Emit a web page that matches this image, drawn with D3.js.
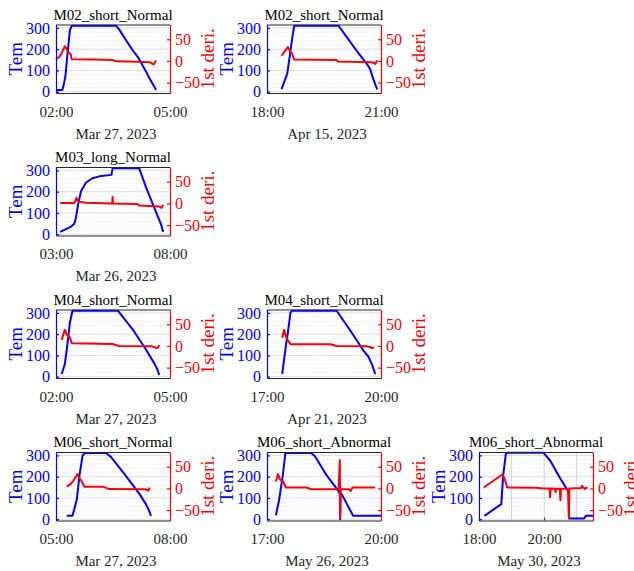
<!DOCTYPE html>
<html lang="en">
<head>
<meta charset="utf-8">
<title>Tem / 1st deri.</title>
<script src="https://cdn.jsdelivr.net/npm/d3@7"></script>
<style>
  body { margin: 0; padding: 0; background: #fff; }
  svg text { font-family: 'Liberation Serif', 'Times New Roman', serif; }
</style>
</head>
<body>
<div id="chart"></div>
<script>
// ---- data ----
var titles = ["M02_short_Normal", "M02_short_Normal", "M03_long_Normal", "M04_short_Normal",
              "M04_short_Normal", "M06_short_Normal", "M06_short_Abnormal", "M06_short_Abnormal"];
var days = ["2023-03-27", "2023-04-15", "2023-03-26", "2023-03-27", "2023-04-21", "2023-03-27", "2023-05-26", "2023-05-30"];
var dateLabels = ["Mar 27, 2023", "Apr 15, 2023", "Mar 26, 2023", "Mar 27, 2023",
                  "Apr 21, 2023", "Mar 27, 2023", "May 26, 2023", "May 30, 2023"];
var windowStart = ["02:00", "18:00", "03:00", "02:00", "17:00", "05:00", "17:00", "18:00"];
var windowEnd   = ["05:00", "21:00", "08:00", "05:00", "20:00", "08:00", "20:00", "21:30"];
var xTickLabels = [["02:00", "05:00"], ["18:00", "21:00"], ["03:00", "08:00"], ["02:00", "05:00"],
                   ["17:00", "20:00"], ["05:00", "08:00"], ["17:00", "20:00"], ["18:00", "20:00"]];
var xGridHours = [[], [], [], [], [], [], [], ["19:00", "20:00", "21:00"]];
var temTicks = [0, 100, 200, 300];
var derTicks = [-50, 0, 50];

// [minutes after window start, value]
var tem1 = [[0,8],[10,8],[12,30],[15,75],[18,175],[22,290],[25,310],[95,310],[100,292],[110,245],[121,195],[130,160],[137,122],[143,90],[147,66],[152,40],[155,25],[158,8]];
var der1 = [[0,4],[5,9],[8,15],[11,25],[14,34],[17,27],[20,19],[23,16],[25,4],[60,3],[90,2],[95,-1],[130,-2],[148,-3],[152,-6],[154,-8],[156,-4],[158,1]];

var tem2 = [[23,12],[32,85],[36,170],[40,255],[43,310],[113,310],[142,191],[158,129],[163,105],[168,58],[171,35],[174,11]];
var der2 = [[23,12],[28,22],[33,32],[36,24],[40,15],[43,3],[110,2],[112,-1.5],[165,-3],[168,-4],[171,-7],[174,1]];

var tem3 = [[11,11],[26,24],[40,36],[48,49],[52,73],[58,138],[66,203],[79,243],[96,263],[114,272],[146,279],[148,300],[149,310],[219,310],[237,220],[263,105],[276,49],[282,11]];
var der3 = [[11,1],[48,1],[52,8],[54,13],[57,6],[60,4],[80,1.5],[146,0],[148,0],[149,15],[150,0],[215,-1.5],[218,-5],[270,-7],[278,-10],[282,-3]];

var tem4 = [[9,13],[14,60],[18,151],[22,255],[26,310],[98,310],[121,223],[142,128],[155,64],[160,35],[163,8]];
var der4 = [[9,14],[12,28],[14,37],[17,26],[20,23],[22,19],[25,6],[89,4.5],[100,0],[152,-1],[159,-5],[161,-4],[163,2]];

var tem5 = [[24,13],[27,80],[30,150],[33,208],[37,300],[39,310],[110,310],[132,215],[153,120],[160,95],[166,56],[171,13]];
var der5 = [[24,19],[27,37],[30,22],[32,15],[34,11],[37,4],[100,4],[110,0],[158,-1],[163,-3],[166,-5],[169,-3]];

var tem6 = [[17,16],[26,16],[30,60],[33,95],[37,205],[42,300],[46,311],[79,311],[87,292],[110,205],[132,118],[142,71],[147,40],[150,16]];
var der6 = [[17,4],[23,10],[27,17],[32,28],[34,33],[37,24],[40,18],[45,4],[74,4],[84,-1.5],[142,-2],[146,-5],[148,2]];

var tem7 = [[14,19],[19,88],[25,207],[29,311],[70,311],[76,295],[94,207],[110,144],[115,120],[115.5,0],[116,120],[118,118],[126,72],[136,16],[180,16]];
var der7 = [[14,16],[17.5,33],[20,22],[22,19],[25,17],[30,2],[62,2],[70,-2],[113,-2],[115,65],[115.5,-68],[116.5,-2],[129,-2],[132,-6],[135,2],[171,2]];

var tem8 = [[10,16],[41,71],[44.5,205],[49.5,308],[52,312],[119,312],[131,276],[150,190],[161,145],[165.5,126],[166,3],[193,3],[197,16],[210,16]];
var der8 = [[8.7,2],[43,32],[47.6,21],[52,2],[106,1.5],[118,0],[130,0],[131,-20],[132,0],[140,-1],[141,-9],[142,-1],[149,-1],[150,-27],[151,-1],[160,-1],[164,-2],[165.5,-68],[166.5,0],[188,1],[190,6],[192,2],[195,-1],[197,1],[200,2]];

var temSeries = [tem1, tem2, tem3, tem4, tem5, tem6, tem7, tem8];
var derSeries = [der1, der2, der3, der4, der5, der6, der7, der8];

// ---- layout ----
var W = 634, H = 571;
var colX = [56, 267, 479];
var rowY = [24.5, 167, 309.5, 452];
var cells = [[0,0],[0,1],[1,0],[2,0],[2,1],[3,0],[3,1],[3,2]];
var pw = 114, ph = 68.5;

var svg = d3.select("#chart").append("svg")
  .attr("width", W)
  .attr("height", H);

var parseT = d3.timeParse("%Y-%m-%d %H:%M");
var fmt = d3.timeFormat("%H:%M");

titles.forEach(function(title, i) {
  var left = colX[cells[i][1]], top = rowY[cells[i][0]];
  var g = svg.append("g").attr("transform", "translate(" + left + "," + top + ")");

  var t0 = parseT(days[i] + " " + windowStart[i]);
  var t1 = parseT(days[i] + " " + windowEnd[i]);
  var toDate = function(m) { return new Date(t0.getTime() + m * 60000); };

  var x = d3.scaleTime().domain([t0, t1]).range([0, pw]);
  var yT = d3.scaleLinear().domain([-6, 316]).range([ph, 0]);
  var yD = d3.scaleLinear().domain([-74, 84]).range([ph, 0]);

  // grid: minor then major
  g.append("g").selectAll("line")
    .data(d3.range(20, 316, 20).filter(function(v) { return v % 100 !== 0; }))
    .enter().append("line")
      .attr("x1", 0).attr("x2", pw)
      .attr("y1", function(d) { return yT(d); }).attr("y2", function(d) { return yT(d); })
      .attr("stroke", "#d4d4ee").attr("stroke-width", 0.6).attr("stroke-dasharray", "1,1.5");
  g.append("g").selectAll("line")
    .data(temTicks)
    .enter().append("line")
      .attr("x1", 0).attr("x2", pw)
      .attr("y1", function(d) { return yT(d); }).attr("y2", function(d) { return yT(d); })
      .attr("stroke", "#d2d2f2").attr("stroke-width", 0.8);
  g.append("g").selectAll("line")
    .data(xGridHours[i])
    .enter().append("line")
      .attr("x1", function(d) { return x(parseT(days[i] + " " + d)); })
      .attr("x2", function(d) { return x(parseT(days[i] + " " + d)); })
      .attr("y1", 0).attr("y2", ph)
      .attr("stroke", "#c8c8c8").attr("stroke-width", 0.8);

  // lines
  var lineT = d3.line().x(function(d) { return x(toDate(d[0])); }).y(function(d) { return yT(d[1]); });
  var lineD = d3.line().x(function(d) { return x(toDate(d[0])); }).y(function(d) { return yD(d[1]); });
  g.append("path").datum(temSeries[i])
    .attr("d", lineT).attr("fill", "none").attr("stroke", "#0000ff")
    .attr("stroke-width", 2).attr("stroke-linejoin", "round");
  g.append("path").datum(derSeries[i])
    .attr("d", lineD).attr("fill", "none").attr("stroke", "#ff0000")
    .attr("stroke-width", 2).attr("stroke-linejoin", "round");

  // box top
  g.append("line").attr("x1", 0).attr("x2", pw).attr("y1", 0.5).attr("y2", 0.5)
    .attr("stroke", "#262626").attr("stroke-width", 1);

  // bottom axis
  var xTicks = xTickLabels[i].map(function(s) { return parseT(days[i] + " " + s); });
  var xa = g.append("g").attr("transform", "translate(0," + ph + ")")
    .call(d3.axisBottom(x).tickValues(xTicks).tickFormat(fmt).tickSizeInner(-3).tickSizeOuter(0).tickPadding(13));
  xa.selectAll("path, line").attr("stroke", "#262626");
  xa.selectAll("text").attr("fill", "#262626").style("font-size", "15px")
    .style("font-family", "'Liberation Serif', serif");

  // left axis
  var la = g.append("g")
    .call(d3.axisLeft(yT).tickValues(temTicks).tickSizeInner(-3).tickSizeOuter(0).tickPadding(6));
  la.selectAll("path, line").attr("stroke", "#0000ff").attr("stroke-width", 1.2);
  la.selectAll("text").attr("fill", "#0000ff").style("font-size", "16px")
    .style("font-family", "'Liberation Serif', serif");

  // right axis
  var ra = g.append("g").attr("transform", "translate(" + pw + ",0)")
    .call(d3.axisRight(yD).tickValues(derTicks).tickSizeInner(-3).tickSizeOuter(0).tickPadding(5));
  ra.selectAll("path, line").attr("stroke", "#ff0000").attr("stroke-width", 1.2);
  ra.selectAll("text").attr("fill", "#ff0000").style("font-size", "16px")
    .style("font-family", "'Liberation Serif', serif");

  // labels
  g.append("text").attr("x", pw / 2).attr("y", -5).attr("text-anchor", "middle")
    .attr("fill", "#000").style("font-size", "15px").text(title);
  g.append("text").attr("x", pw / 2 + 3).attr("y", ph + 45.5).attr("text-anchor", "middle")
    .attr("fill", "#262626").style("font-size", "15px").text(dateLabels[i]);
  g.append("text").attr("transform", "translate(-34," + ph / 2 + ") rotate(-90)")
    .attr("text-anchor", "middle").attr("fill", "#0000ff").style("font-size", "19px").text("Tem");
  g.append("text").attr("transform", "translate(" + (pw + 44) + "," + ph / 2 + ") rotate(-90)")
    .attr("text-anchor", "middle").attr("fill", "#ff0000").style("font-size", "19px").text("1st deri.");
});
</script>
</body>
</html>
